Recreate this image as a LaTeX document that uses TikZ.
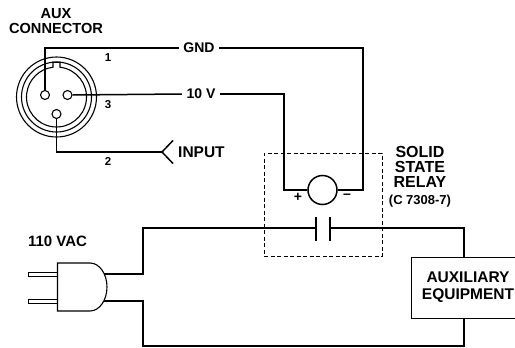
\documentclass[tikz,border=0pt]{standalone}
\usepackage{fontspec}
\setmainfont{Liberation Sans}
\begin{document}
\begin{tikzpicture}[x=1pt,y=-1pt,
  wire/.style={line width=1.5pt},
  thinl/.style={line width=1.1pt},
  lbl/.style={font=\fontsize{14.6}{15}\selectfont\bfseries, inner sep=0pt, align=center},
  mid/.style={font=\fontsize{14}{14}\selectfont\bfseries, inner ysep=0pt, inner xsep=4.5pt},
  big/.style={font=\fontsize{15.5}{16}\selectfont\bfseries, inner sep=0pt},
  small/.style={font=\fontsize{11.5}{12}\selectfont\bfseries, inner sep=0pt},
  pinc/.style={circle, draw, thinl, minimum size=9pt, inner sep=0pt},
]
\useasboundingbox (0,0) rectangle (515,348);

% --- connector
\draw[thinl] (56.5,97) circle[radius=40];
\draw[thinl] (56.5,97) circle[radius=35];
\draw[thinl] (60,67.2) arc[start angle=-83.3, end angle=263.3, radius=30] -- (53,62.2) -- (60,62.2) -- cycle;
\node[pinc] (p1) at (45,95) {};
\node[pinc] (p3) at (67.5,95) {};
\node[pinc] (p2) at (56.5,114) {};

\node[lbl] (title) at (56,21.5) {AUX\\CONNECTOR};
\node[small] (n1) at (108,58) {1};
\node[small] (n3) at (108,105) {3};
\node[small] (n2) at (108,161) {2};

% --- labels on wires
\node[mid] (gnd) at (199,48) {GND};
\node[mid] (tenv) at (201,94) {10 V};

% --- relay
\node[draw, wire, circle, minimum size=29pt, inner sep=0pt] (coil) at (322.5,190) {};
\coordinate (cl) at (284,190);
\coordinate (cr) at (363,190);
\node[draw, line width=0.8pt, dash pattern=on 4pt off 2.5pt, minimum width=118pt, minimum height=103pt, inner sep=0pt] (ssr) at (323,204.5) {};
\node[lbl, font=\fontsize{16}{15}\selectfont\bfseries] (ssrtxt) at (420,167) {SOLID\\STATE\\RELAY};
\node[small, font=\fontsize{13}{13}\selectfont\bfseries] (cnum) at (420,201) {(C 7308-7)};
\node[small, font=\fontsize{14}{14}\selectfont\bfseries] (plus) at (298,197) {+};
\node[small, font=\fontsize{14}{14}\selectfont\bfseries] (minus) at (347,196) {\textendash};

\coordinate (k1) at (316,228);
\coordinate (k2) at (330,228);
\draw[wire] (316,217) -- (316,241);
\draw[wire] (330,217) -- (330,241);

% --- control wiring
\draw[wire] (p1.north) |- (gnd.west);
\draw[wire] (gnd.east) -| (cr) -- (coil.east);
\draw[wire] (p3.east) -- (tenv.west);
\draw[wire] (tenv.east) -| (cl) -- (coil.west);

% --- input
\coordinate (tip) at (162,152);
\draw[wire] (p2.south) |- (tip);
\draw[wire] (173,140.5) -- (tip) -- (173,163.5);
\node[big, anchor=west] (inp) at (178,152) {INPUT};

% --- plug
\node[big, font=\fontsize{15}{16}\selectfont\bfseries] (vac) at (57.5,241) {110 VAC};
\draw[thinl] (57.5,263) -- (90,263) arc[x radius=17, y radius=24, start angle=-90, end angle=90] -- (57.5,311) -- cycle;
\draw[line width=0.9pt] (28,272.5) rectangle (57.5,276.5);
\draw[line width=0.9pt] (28,299.5) rectangle (57.5,303.5);
\coordinate (pl1) at (104.2,274);
\coordinate (pl2) at (103.8,301);

% --- auxiliary equipment
\node[draw, line width=1pt, minimum width=140pt, minimum height=61pt, inner sep=0pt] (aux) at (481,287.5) {};
\node[lbl, font=\fontsize{15.5}{17}\selectfont\bfseries] (auxtxt) at (468,287.5) {AUXILIARY\\EQUIPMENT};
\coordinate (at) at (464,257);
\coordinate (ab) at (464,318);

% --- load wiring
\draw[wire] (pl1) -| (143,228) -- (k1);
\draw[wire] (k2) -| (at);
\draw[wire] (pl2) -| (143,346) -| (ab);
\end{tikzpicture}
\end{document}
